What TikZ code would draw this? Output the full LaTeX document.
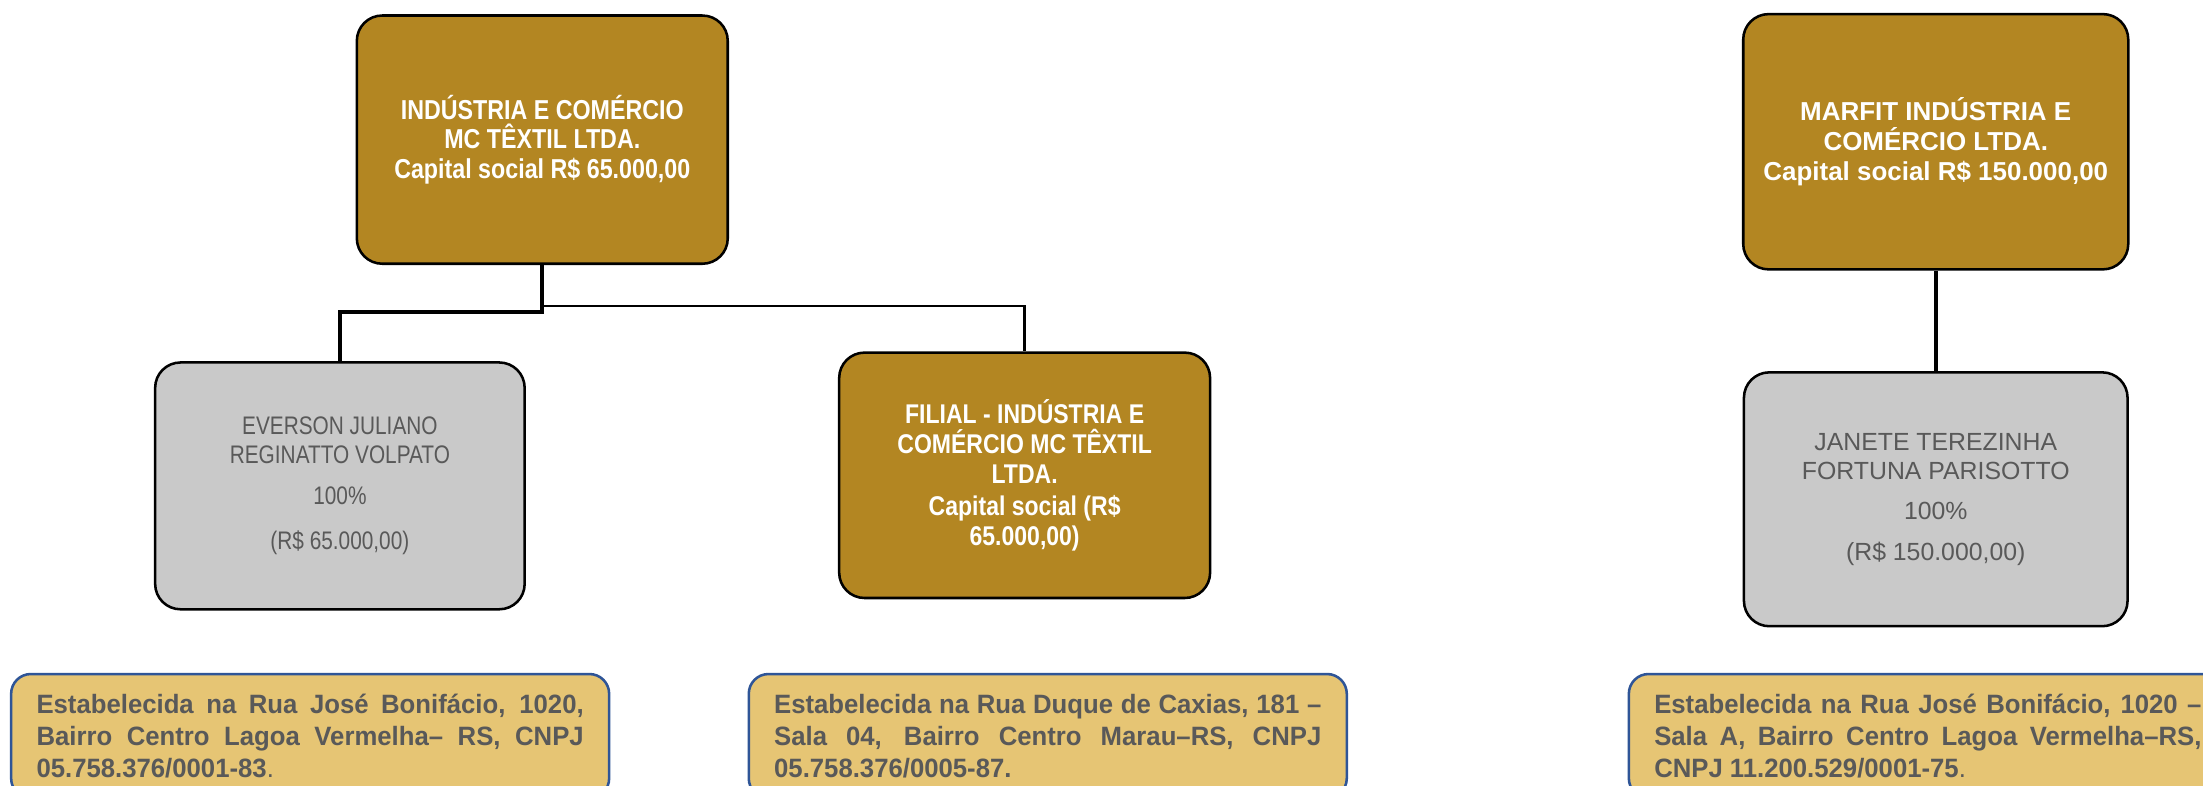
\documentclass[tikz,border=0pt]{standalone}
\usepackage{fontspec}
\setmainfont{Liberation Sans}
\newfontfamily\condfont[FakeStretch=0.85]{Liberation Sans}
\newfontfamily\condgray[FakeStretch=0.82]{Liberation Sans}
\newfontfamily\addrfont[FakeStretch=0.97]{Liberation Sans}
\definecolor{gold}{RGB}{179,134,34}
\definecolor{graybg}{RGB}{201,201,201}
\definecolor{graytxt}{RGB}{89,89,89}
\definecolor{addrfill}{RGB}{230,197,116}
\definecolor{addrline}{RGB}{47,85,151}
\begin{document}
\begin{tikzpicture}[x=0.5pt,y=-0.5pt,
  box/.style={draw=black, line width=0.9pt, rounded corners=9pt, align=center, inner sep=2pt},
  goldbox/.style={box, fill=gold, text=white},
  graybox/.style={box, fill=graybg, text=graytxt},
  addrbox/.style={draw=addrline, line width=0.9pt, fill=addrfill, rounded corners=7pt,
    text=graytxt, text width=194pt, align=justify, inner xsep=9pt, inner ysep=2pt,
    minimum height=44pt, anchor=north west,
    font=\addrfont\bfseries\fontsize{9.4}{11.3}\selectfont},
  linkthick/.style={draw=black, line width=1.3pt},
  linkthin/.style={draw=black, line width=0.85pt}
]
\useasboundingbox (0,0) rectangle (1562,557);
\fill[white] (0,0) rectangle (1562,557);

% left group
\node[goldbox, minimum width=131.5pt, minimum height=88pt,
  font=\condfont\bfseries\fontsize{9.7}{10.5}\selectfont] (A) at (384.5,99)
  {INDÚSTRIA E COMÉRCIO\\MC TÊXTIL LTDA.\\Capital social R\$ 65.000,00};
\node[graybox, minimum width=131pt, minimum height=87.5pt,
  font=\condgray\fontsize{9}{10.5}\selectfont] (B) at (241,344.5)
  {EVERSON JULIANO\\REGINATTO VOLPATO\\[4pt]100\%\\[5.5pt](R\$ 65.000,00)};
\node[goldbox, minimum width=131.5pt, minimum height=87pt,
  font=\condfont\bfseries\fontsize{9.6}{10.5}\selectfont] (C) at (726.5,337)
  {FILIAL - INDÚSTRIA E\\COMÉRCIO MC TÊXTIL\\LTDA.\\[1pt]Capital social (R\$\\65.000,00)};

\coordinate (jl) at (384.5,221);
\coordinate (jr) at (384.5,217);
\draw[linkthick] (A.south) -- (jl) -| (B.north);
\draw[linkthin] (jr) -| (C.north);

% right group
\node[goldbox, minimum width=136.5pt, minimum height=90.5pt,
  font=\bfseries\fontsize{9.2}{10.5}\selectfont] (D) at (1372.5,100.5)
  {MARFIT INDÚSTRIA E\\COMÉRCIO LTDA.\\Capital social R\$ 150.000,00};
\node[graybox, minimum width=136pt, minimum height=90pt,
  font=\fontsize{8.8}{10.5}\selectfont] (E) at (1372.5,354)
  {JANETE TEREZINHA\\FORTUNA PARISOTTO\\[3.5pt]100\%\\[4pt](R\$ 150.000,00)};
\draw[linkthick] (D.south) -- (E.north);

% address boxes
\node[addrbox] (F) at (7,477)
  {Estabelecida na Rua José Bonifácio, 1020,\linebreak Bairro Centro Lagoa Vermelha– RS, CNPJ\linebreak 05.758.376/0001-83{\mdseries.}};
\node[addrbox] (G) at (530,477)
  {Estabelecida na Rua Duque de Caxias, 181 –\linebreak Sala 04, Bairro Centro Marau–RS, CNPJ\linebreak 05.758.376/0005-87.};
\node[addrbox] (H) at (1154,477)
  {Estabelecida na Rua José Bonifácio, 1020 –\linebreak Sala A, Bairro Centro Lagoa Vermelha–RS,\linebreak CNPJ 11.200.529/0001-75{\mdseries.}};
\end{tikzpicture}
\end{document}
